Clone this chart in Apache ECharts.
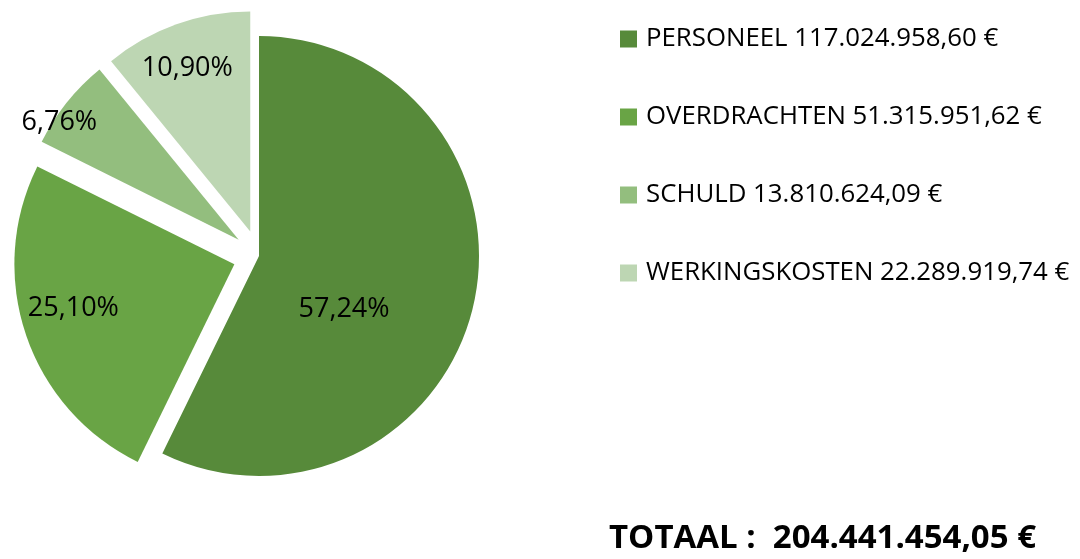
<!DOCTYPE html>
<html>
<head>
<meta charset="utf-8">
<script src="https://cdn.jsdelivr.net/npm/echarts@6/dist/echarts.min.js"></script>
<style>
  html, body { margin: 0; padding: 0; background: #fff; }
  #main { width: 1080px; height: 559px; }
</style>
</head>
<body>
<div id="main"></div>
<script>
// data
var categories = ["PERSONEEL", "OVERDRACHTEN", "SCHULD", "WERKINGSKOSTEN"];
var amounts = [117024958.60, 51315951.62, 13810624.09, 22289919.74];
var colors = ["#578a3a", "#69a445", "#93be7e", "#bdd6b3"];
var exploded = [false, true, true, true];

// format 1234567.5 -> "1.234.567,50"
function fmtEuro(v) {
  var parts = v.toFixed(2).split(".");
  var intPart = parts[0].replace(/\B(?=(\d{3})+(?!\d))/g, ".");
  return intPart + "," + parts[1];
}

var total = amounts.reduce(function (a, b) { return a + b; }, 0);

// nudge labels to where Excel put them
var labelShift = [[-25, 28], [-54, 8], [-91, -47], [-25, -57]];

var chart = echarts.init(document.getElementById("main"));
chart.setOption({
  animation: false,
  color: colors,
  legend: {
    orient: "vertical",
    left: 615,
    top: 21,
    itemWidth: 17,
    itemHeight: 17,
    itemGap: 52,
    icon: "rect",
    selectedMode: false,
    data: categories,
    textStyle: { fontFamily: "Open Sans", fontSize: 25.8, lineHeight: 25, color: "#000", padding: [0, 0, 0, 4] },
    formatter: function (name) {
      var i = categories.indexOf(name);
      return name + " " + fmtEuro(amounts[i]) + " €";
    }
  },
  title: {
    text: "TOTAAL :  " + fmtEuro(total) + " €",
    left: 609,
    top: 522,
    padding: 0,
    textStyle: { fontFamily: "Open Sans", fontWeight: "bold", fontSize: 33, color: "#000" }
  },
  series: [{
    type: "pie",
    center: [259, 256],
    radius: 220,
    startAngle: 90,
    clockwise: true,
    selectedMode: "multiple",
    selectedOffset: 26,
    percentPrecision: 2,
    emphasis: { disabled: true },
    label: {
      show: true,
      position: "inside",
      fontFamily: "Open Sans",
      fontSize: 27,
      color: "#000",
      formatter: function (p) { return p.percent.toFixed(2).replace(".", ",") + "%"; }
    },
    labelLine: { show: false },
    labelLayout: function (p) {
      var s = labelShift[p.dataIndex];
      return { dx: s[0], dy: s[1] };
    },
    data: categories.map(function (c, i) {
      return { name: c, value: amounts[i], selected: exploded[i] };
    })
  }]
});
</script>
</body>
</html>
